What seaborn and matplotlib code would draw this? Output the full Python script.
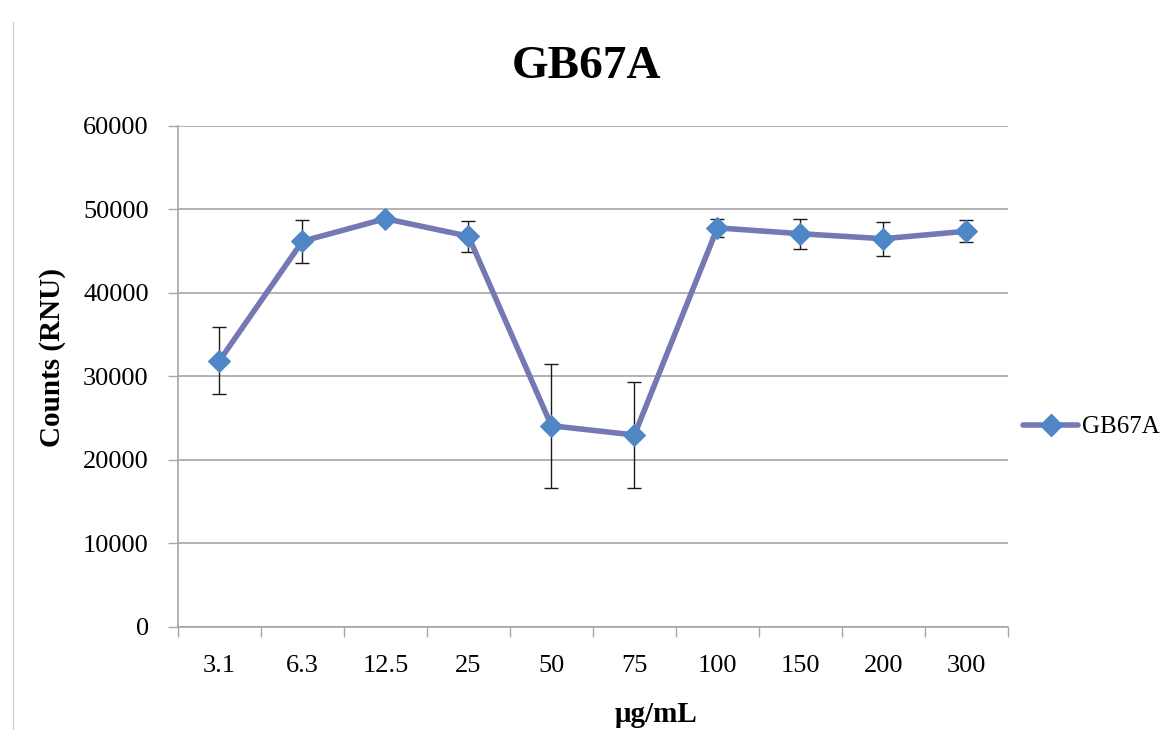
import matplotlib
matplotlib.use('Agg')
import matplotlib.pyplot as plt
import matplotlib.lines as mlines
import pandas as pd
import seaborn as sns

# data
concentrations = ['3.1', '6.3', '12.5', '25', '50', '75', '100', '150', '200', '300']
counts = [31900, 46200, 48900, 46800, 24100, 23000, 47800, 47100, 46500, 47400]
errors = [4000, 2600, 300, 1850, 7450, 6350, 1050, 1800, 2050, 1300]

line_color = '#7479b3'
marker_color = '#4f86c6'
grid_color = '#a6a6a6'

sns.set_style('white')
plt.rcParams['font.family'] = ['Liberation Serif', 'DejaVu Serif']
plt.rcParams['text.color'] = 'black'
plt.rcParams['xtick.color'] = 'black'
plt.rcParams['ytick.color'] = 'black'

df = pd.DataFrame({'pos': range(len(concentrations)), 'counts': counts, 'err': errors})

fig = plt.figure(figsize=(11.64, 7.3), dpi=100)
ax = fig.add_axes([0.1529, 0.1411, 0.713, 0.6863])

ax.set_ylim(0, 60000)
ax.set_yticks(range(0, 60001, 10000))
ax.yaxis.grid(True, color=grid_color, linewidth=1.2)
ax.set_axisbelow(True)

ax.errorbar(df['pos'], df['counts'], yerr=df['err'], fmt='none', ecolor='#1a1a1a',
            elinewidth=1.0, capsize=5, capthick=1.0, zorder=2)
sns.lineplot(data=df, x='pos', y='counts', ax=ax, color=line_color, linewidth=4,
             marker='D', markersize=11, markerfacecolor=marker_color,
             markeredgecolor=marker_color, zorder=3, legend=False)

ax.set_xlim(-0.5, len(concentrations) - 0.5)
ax.set_xticks(range(len(concentrations)))
ax.set_xticklabels(concentrations)
ax.set_xticks([i - 0.5 for i in range(len(concentrations) + 1)], minor=True)
ax.tick_params(axis='x', which='major', length=0, pad=20, labelsize=19)
ax.tick_params(axis='x', which='minor', bottom=True, length=7, width=1,
               color=grid_color, direction='out')
ax.tick_params(axis='y', which='major', left=True, length=7, width=1, color=grid_color,
               direction='out', labelsize=19, pad=14)

for side in ['top', 'right']:
    ax.spines[side].set_visible(False)
for side in ['left', 'bottom']:
    ax.spines[side].set_color(grid_color)
    ax.spines[side].set_linewidth(1.2)

ax.set_xlabel('')
ax.set_ylabel('')
fig.text(656 / 1164, 1 - 714 / 730, 'μg/mL', fontsize=21, fontweight='bold',
         ha='center', va='center')
fig.text(52 / 1164, 1 - 357 / 730, 'Counts (RNU)', fontsize=21, fontweight='bold',
         rotation=90, ha='center', va='center')
fig.text(587 / 1164, 1 - 67 / 730, 'GB67A', fontsize=34, fontweight='bold',
         ha='center', va='center')

handle = mlines.Line2D([], [], color=line_color, linewidth=4, marker='D', markersize=11,
                       markerfacecolor=marker_color, markeredgecolor=marker_color)
fig.legend([handle], ['GB67A'], loc='center left', bbox_to_anchor=(1023 / 1164, 1 - 427 / 730),
           frameon=False, fontsize=18, handlelength=2.2, handletextpad=0.16,
           borderpad=0, borderaxespad=0)

# thin border line at the left edge of the image
fig.add_artist(mlines.Line2D([0.011, 0.011], [0.0, 0.97], color='#d0d0d0', linewidth=1))

fig.savefig('out.png', dpi=100)
